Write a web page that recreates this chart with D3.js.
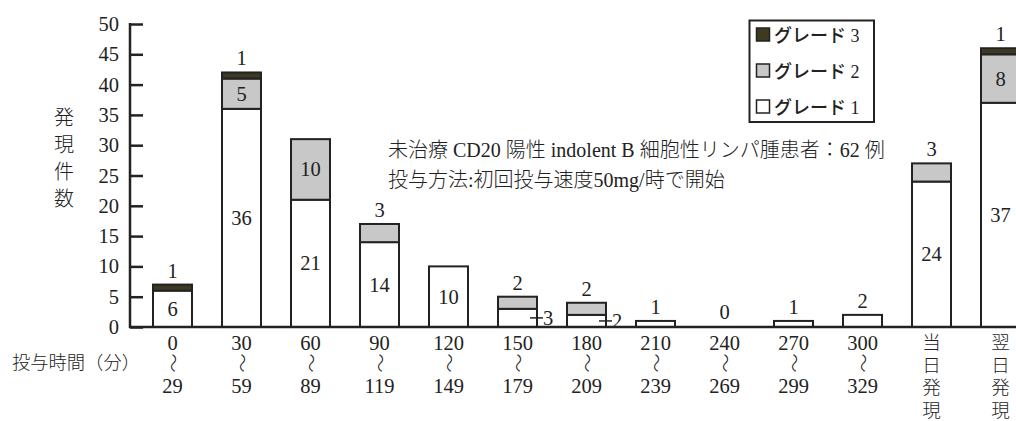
<!DOCTYPE html>
<html>
<head>
<meta charset="utf-8">
<script src="https://cdn.jsdelivr.net/npm/d3@7"></script>
<style>
  body { margin: 0; background: #fff; }
  text { font-family: "Liberation Serif", "Noto Sans CJK JP", serif; fill: #222; }
</style>
</head>
<body>
<svg id="chart" width="1016" height="421"></svg>
<script>
// data
const categories = ["0", "30", "60", "90", "120", "150", "180", "210", "240", "270", "300", "当日", "翌日"];
const tickFrom = ["0", "30", "60", "90", "120", "150", "180", "210", "240", "270", "300", null, null];
const tickTo = ["29", "59", "89", "119", "149", "179", "209", "239", "269", "299", "329", null, null];
const tickWords = [null, null, null, null, null, null, null, null, null, null, null, "当日発現", "翌日発現"];
const grade1 = [6, 36, 21, 14, 10, 3, 2, 1, 0, 1, 2, 24, 37];
const grade2 = [0, 5, 10, 3, 0, 2, 2, 0, 0, 0, 0, 3, 8];
const grade3 = [1, 1, 0, 0, 0, 0, 0, 0, 0, 0, 0, 0, 1];
const yTicks = [0, 5, 10, 15, 20, 25, 30, 35, 40, 45, 50];
const gradeNames = ["グレード 1", "グレード 2", "グレード 3"];
const noteLines = ["未治療 CD20 陽性 indolent B 細胞性リンパ腫患者：62 例", "投与方法:初回投与速度50mg/時で開始"];

const keys = ["g1", "g2", "g3"];
const fills = { g1: "#ffffff", g2: "#c8c8c8", g3: "#3e3a22" };
const ink = "#222";

const svg = d3.select("#chart");

const y = d3.scaleLinear().domain([0, 50]).range([327, 24]);
const x = d3.scaleBand()
  .domain(categories)
  .range([138, 1035])
  .paddingInner(0.435)
  .paddingOuter(0.2175);
const bw = x.bandwidth();

var rows = categories.map(function(c, i) {
  return { cat: c, g1: grade1[i], g2: grade2[i], g3: grade3[i] };
});
var series = d3.stack().keys(keys)(rows);

// bars
series.forEach(function(s) {
  svg.append("g")
    .selectAll("rect")
    .data(s.filter(function(d) { return d[1] - d[0] > 0; }))
    .enter()
    .append("rect")
    .attr("x", function(d) { return x(d.data.cat); })
    .attr("y", function(d) { return y(d[1]); })
    .attr("width", bw)
    .attr("height", function(d) { return y(d[0]) - y(d[1]); })
    .attr("fill", fills[s.key])
    .attr("stroke", ink)
    .attr("stroke-width", 2);
});

// value labels
var labels = svg.append("g").attr("font-size", "20.5px");
rows.forEach(function(r, i) {
  var segs = [];
  keys.forEach(function(k, j) {
    if (r[k] > 0) segs.push({ v: r[k], y0: series[j][i][0], y1: series[j][i][1] });
  });
  var x0 = x(r.cat);
  var cx = x0 + bw / 2;
  if (segs.length === 0) {
    labels.append("text").attr("x", cx).attr("y", y(0) - 8)
      .attr("text-anchor", "middle").text("0");
    return;
  }
  var top = segs[segs.length - 1];
  segs.forEach(function(s) {
    var mid = (y(s.y0) + y(s.y1)) / 2;
    if (s.v >= 5) {
      labels.append("text").attr("x", cx).attr("y", mid + 7)
        .attr("text-anchor", "middle").text(s.v);
    } else if (s === top) {
      labels.append("text").attr("x", cx).attr("y", y(s.y1) - 7)
        .attr("text-anchor", "middle").text(s.v);
    } else {
      // small segment below another: leader line to the right
      labels.append("line")
        .attr("x1", x0 + bw - 7).attr("x2", x0 + bw + 6)
        .attr("y1", mid).attr("y2", mid)
        .attr("stroke", ink).attr("stroke-width", 1.5);
      labels.append("text").attr("x", x0 + bw + 6).attr("y", mid + 7).text(s.v);
    }
  });
});

// y axis
var yAxis = d3.axisLeft(y)
  .tickValues(yTicks)
  .tickSizeInner(-13)
  .tickSizeOuter(0)
  .tickPadding(11);
var ag = svg.append("g").attr("transform", "translate(130,0)").call(yAxis);
ag.select(".domain").remove();
ag.selectAll(".tick line").attr("stroke", ink).attr("stroke-width", 2.5);
ag.selectAll(".tick text")
  .attr("font-family", "Liberation Serif")
  .attr("font-size", "20.5px")
  .attr("fill", ink);

svg.append("line").attr("x1", 130).attr("x2", 130)
  .attr("y1", y(50) - 1).attr("y2", y(0) + 1)
  .attr("stroke", ink).attr("stroke-width", 2.5);
svg.append("line").attr("x1", 129).attr("x2", 1016)
  .attr("y1", y(0)).attr("y2", y(0))
  .attr("stroke", ink).attr("stroke-width", 2.5);

// y title, vertical
var yTitle = "発現件数";
svg.append("g").selectAll("text")
  .data(yTitle.split(""))
  .enter().append("text")
  .attr("x", 64)
  .attr("y", function(d, i) { return 125 + i * 27; })
  .attr("text-anchor", "middle")
  .attr("font-size", "20px")
  .attr("font-weight", 300)
  .text(function(d) { return d; });

// x tick labels
var xl = svg.append("g").attr("font-size", "20.5px").attr("text-anchor", "middle");
categories.forEach(function(c, i) {
  var cx = x(c) + bw / 2;
  if (tickFrom[i] !== null) {
    xl.append("text").attr("x", cx).attr("y", 350).text(tickFrom[i]);
    xl.append("text")
      .attr("transform", "translate(" + cx + ",363) rotate(90)")
      .attr("dominant-baseline", "central")
      .attr("font-family", "Noto Sans CJK JP")
      .attr("font-weight", 300)
      .attr("font-size", "19px")
      .text("〜");
    xl.append("text").attr("x", cx).attr("y", 393).text(tickTo[i]);
  } else {
    tickWords[i].split("").forEach(function(ch, j) {
      xl.append("text").attr("x", cx).attr("y", 349 + j * 22.5)
        .attr("font-weight", 300).attr("font-size", "18.5px").text(ch);
    });
  }
});

svg.append("text")
  .attr("x", 12).attr("y", 369)
  .attr("font-size", "18.3px")
  .attr("font-weight", 300)
  .text("投与時間（分）");

// note
svg.append("g").selectAll("text")
  .data(noteLines)
  .enter().append("text")
  .attr("x", 388)
  .attr("y", function(d, i) { return 157 + i * 30; })
  .attr("font-size", "20px")
  .attr("font-weight", 300)
  .text(function(d) { return d; });

// legend
var lg = svg.append("g");
lg.append("rect")
  .attr("x", 749.5).attr("y", 20.5).attr("width", 124.5).attr("height", 101.5)
  .attr("fill", "#fff").attr("stroke", ink).attr("stroke-width", 2);
["g3", "g2", "g1"].forEach(function(k, j) {
  var cy = 35 + j * 36;
  lg.append("rect")
    .attr("x", 756.5).attr("y", cy - 7).attr("width", 13).attr("height", 13)
    .attr("fill", fills[k]).attr("stroke", ink).attr("stroke-width", 1.5);
  lg.append("text")
    .attr("x", 774).attr("y", cy + 7)
    .attr("font-size", "18px")
    .attr("font-weight", 500)
    .text(gradeNames[keys.indexOf(k)]);
});
</script>
</body>
</html>
